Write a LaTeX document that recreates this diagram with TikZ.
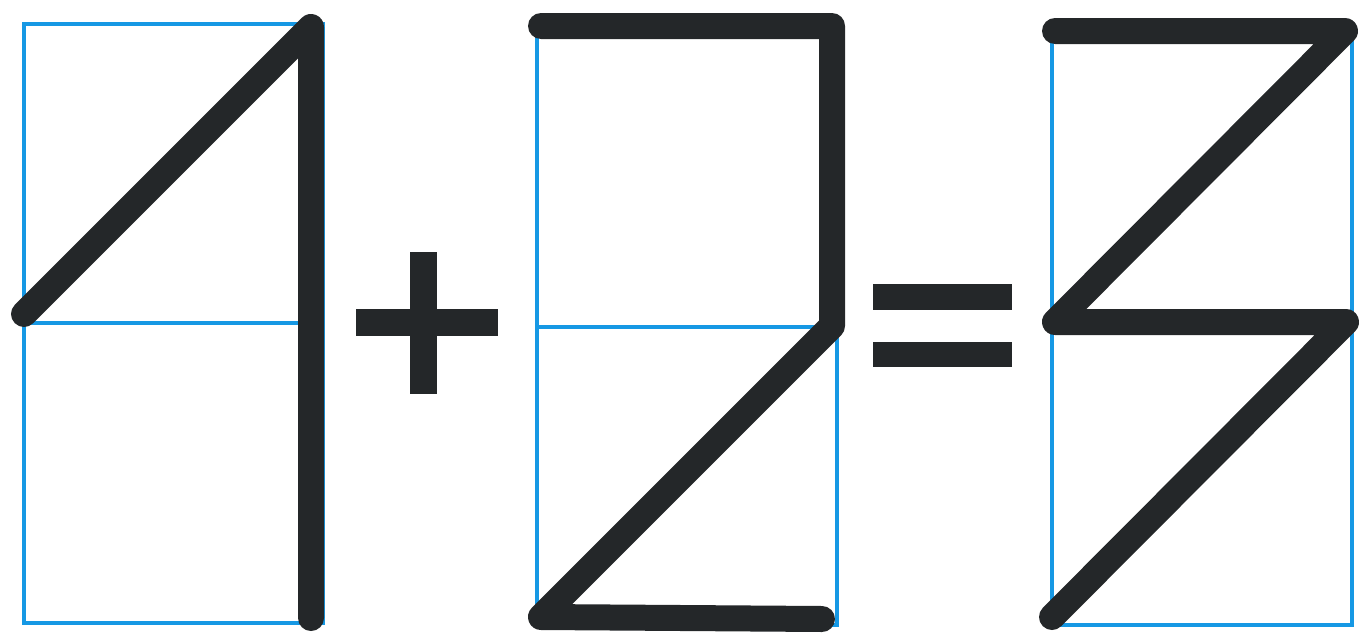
\documentclass[tikz,border=0pt]{standalone}
\usepackage{tikz}
\usetikzlibrary{arrows}

\definecolor{gridblue}{RGB}{22,152,228}
\definecolor{ink}{RGB}{36,39,41}

\begin{document}
\begin{tikzpicture}[x=1pt,y=-1pt]

      \tikzset{box/.style = {draw=gridblue,line width=4.5pt}}
      \tikzset{stroke/.style = {draw=ink,line width=26pt,line cap=round,line join=round}}
      \tikzset{bar/.style = {fill=ink}}
      \useasboundingbox (0,0) rectangle (1360,632);
      % boxes
      \draw[box] (24,24) rectangle (323,623);
      \draw[box] (24,323) -- (323,323);
      \draw[box] (537,28) rectangle (837,625);
      \draw[box] (537,327) -- (837,327);
      \draw[box] (1052,31) rectangle (1352,625);
      \draw[box] (1052,322) -- (1352,322);
      % points
      \coordinate (a1) at (24,314);
      \coordinate (a2) at (311,27);
      \coordinate (a3) at (311,618);
      \coordinate (b1) at (541,26);
      \coordinate (b2) at (832,26);
      \coordinate (b3) at (832,326);
      \coordinate (b4) at (541,617);
      \coordinate (b5) at (822,619);
      \coordinate (c1) at (1055,31);
      \coordinate (c2) at (1345,31);
      \coordinate (c3) at (1055,322);
      \coordinate (c4) at (1346,322);
      \coordinate (c5) at (1052,617);
      %strokes
      \draw[stroke] (a1) -- (a2) -- (a3);
      \draw[stroke] (b1) -- (b2) -- (b3) -- (b4) -- (b5);
      \draw[stroke] (c1) -- (c2) -- (c3) -- (c4) -- (c5);
      % signs
      \fill[bar] (356,309) rectangle (498,336);
      \fill[bar] (410,252) rectangle (437,394);
      \fill[bar] (873,284) rectangle (1012,310);
      \fill[bar] (873,342) rectangle (1012,367);
\end{tikzpicture}
\end{document}
